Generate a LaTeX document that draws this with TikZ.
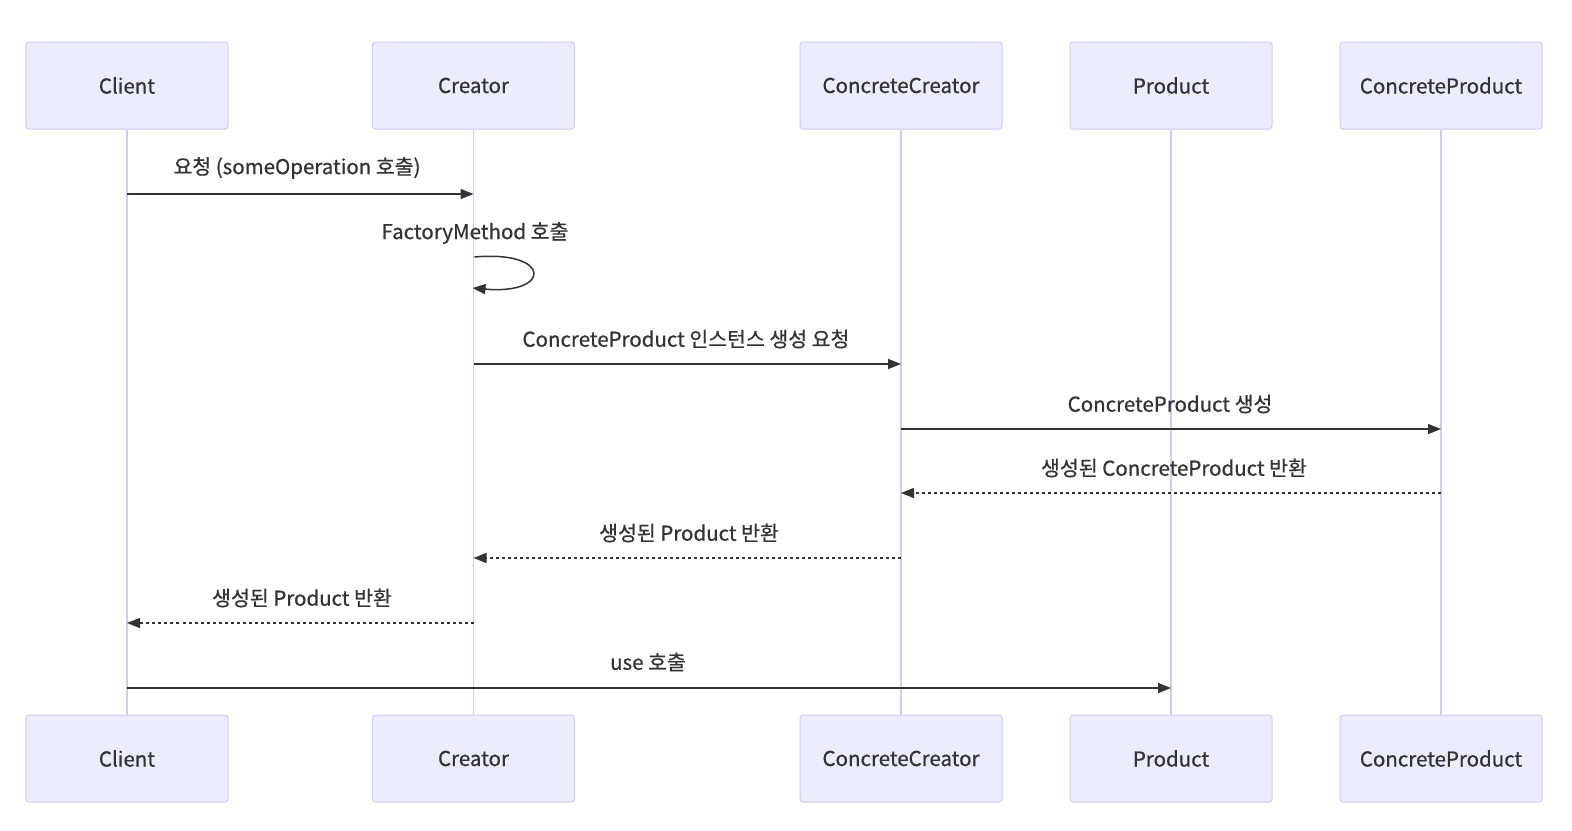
\documentclass[tikz,border=0pt]{standalone}
\usepackage{fontspec}
\setmainfont{Noto Sans CJK KR}[FakeBold=0.6]
\usepackage{tikz}
\usetikzlibrary{arrows.meta,positioning,calc}
\definecolor{actorfill}{HTML}{ECECFF}
\definecolor{actorline}{HTML}{D2CBF3}
\definecolor{ink}{HTML}{333333}

\begin{document}
\begin{tikzpicture}[x=1bp, y=-1bp, font=\fontsize{20.5bp}{24bp}\selectfont, text=ink,
	actor/.style={draw=actorline, fill=actorfill, line width=1bp, rounded corners=3bp, minimum width=202bp, minimum height=87bp},
	life/.style={draw=actorline, line width=1.5bp},
	msg/.style={draw=ink, line width=1.5bp, -{Triangle[length=13bp, width=10bp]}},
	reply/.style={msg, dash pattern=on 3bp off 3bp},
	lbl/.style={inner sep=0pt}]
	\useasboundingbox (0,0) rectangle (1572,830);

	% actors, top and bottom
	\node (cl) [actor] at (127,85.5) {Client};
	\node (cr) [actor] at (473.5,85.5) {Creator};
	\node (cc) [actor] at (901,85.5) {ConcreteCreator};
	\node (pr) [actor] at (1171,85.5) {Product};
	\node (cp) [actor] at (1441,85.5) {ConcreteProduct};
	\node (clb) [actor] at (127,758.5) {Client};
	\node (crb) [actor] at (473.5,758.5) {Creator};
	\node (ccb) [actor] at (901,758.5) {ConcreteCreator};
	\node (prb) [actor] at (1171,758.5) {Product};
	\node (cpb) [actor] at (1441,758.5) {ConcreteProduct};

	% lifelines
	\draw[life] (cl.south) -- (clb.north);
	\draw[life] (cr.south) -- (crb.north);
	\draw[life] (cc.south) -- (ccb.north);
	\draw[life] (pr.south) -- (prb.north);
	\draw[life] (cp.south) -- (cpb.north);

	% messages
	\node (m1) [lbl] at (297,168) {요청 (someOperation 호출)};
	\draw[msg] (cl |- 0,194) -- (cr |- 0,194);

	\node (m2) [lbl] at (475,233) {FactoryMethod 호출};
	\coordinate (selfa) at ($(cr |- 0,257)+(1,0)$);
	\coordinate (selfb) at ($(cr |- 0,288)+(-1,0)$);
	\draw[msg] (selfa) .. controls (552,250) and (552,295) .. (selfb);

	\node (m3) [lbl] at (686,339) {ConcreteProduct 인스턴스 생성 요청};
	\draw[msg] (cr |- 0,364) -- (cc |- 0,364);

	\node (m4) [lbl] at (1170,404) {ConcreteProduct 생성};
	\draw[msg] (cc |- 0,429) -- (cp |- 0,429);

	\node (m5) [lbl] at (1174,468) {생성된 ConcreteProduct 반환};
	\draw[reply] (cp |- 0,493) -- (cc |- 0,493);

	\node (m6) [lbl] at (689,533) {생성된 Product 반환};
	\draw[reply] (cc |- 0,558) -- (cr |- 0,558);

	\node (m7) [lbl] at (302,598) {생성된 Product 반환};
	\draw[reply] (cr |- 0,623) -- (cl |- 0,623);

	\node (m8) [lbl] at (648,662) {use 호출};
	\draw[msg] (cl |- 0,688) -- (pr |- 0,688);
\end{tikzpicture}
\end{document}
